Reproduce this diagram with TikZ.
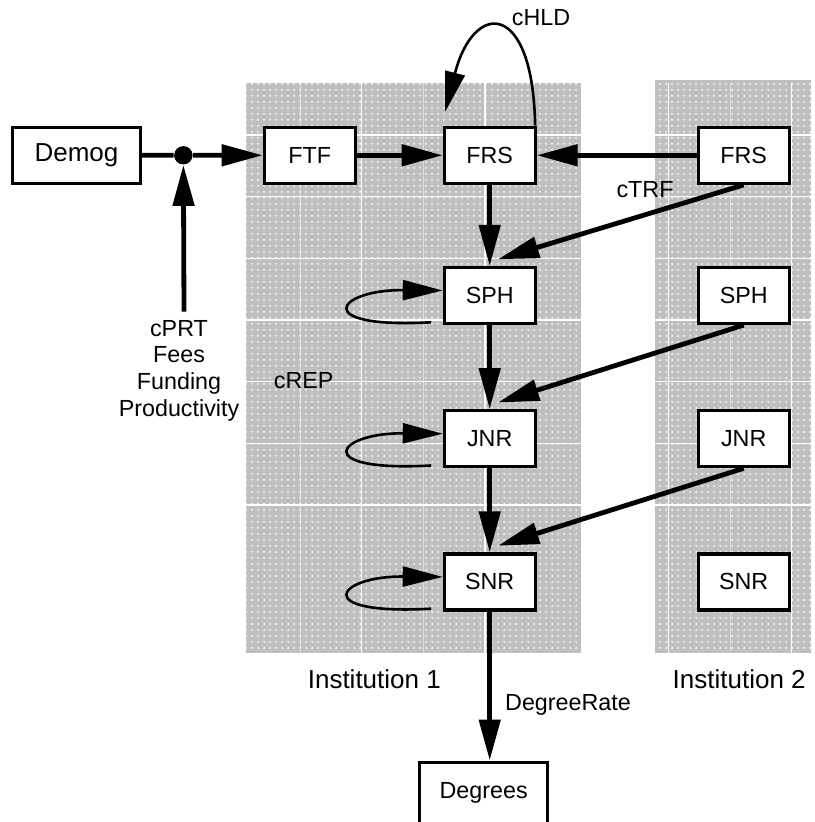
\documentclass[tikz,border=0pt]{standalone}
\usepackage{fontspec}
\setmainfont{Liberation Sans}
\usetikzlibrary{
    arrows.meta,
    patterns,
    calc,
    positioning
}
\tikzset{stock/.style={
    draw,
    fill=white,
    line width=1.6pt,
    inner sep=0pt,
    minimum width=45.4pt,
    minimum height=28pt
}}
\tikzset{wide/.style={minimum width=64pt}}
\tikzset{flow/.style={-{Triangle[length=20.5pt,width=10.5pt]}, line width=2.4pt}}
\tikzset{feedback/.style={-{Triangle[length=20pt,width=10pt]}, line width=1.3pt}}
\tikzset{panel/.style={fill=black!25}}
\tikzset{note/.style={anchor=base, inner sep=0pt}}
\tikzset{big/.style={font=\fontsize{13}{15}\selectfont}}

\begin{document}
\begin{tikzpicture}[
            x=0.5pt, y=-0.5pt,
            font=\fontsize{11.65}{13.35}\selectfont,
            node distance=42pt,
    ]
        \useasboundingbox (0,0) rectangle (814,822);

        % the two institutions
        \fill[panel] (245.7,82.7) rectangle (580.7,653.3);
        \fill[panel] (655,80) rectangle (811,653.3);
        \fill[pattern=dots, pattern color=white] (245.7,82.7) rectangle (580.7,653.3);
        \fill[pattern=dots, pattern color=white] (655,80) rectangle (811,653.3);
        \foreach \y in {135,196.7,258.3,320,381.7,443.3,505} {
            \draw[white, line width=0.6pt] (245.7,\y) -- (580.7,\y);
            \draw[white, line width=0.6pt] (655,\y) -- (811,\y);
        }
        \foreach \x in {361.7,485,668.3,791.7}
            \draw[white, line width=0.6pt] (\x,82.7) -- (\x,653.3);
        \foreach \x in {300,423.3,730}
            \draw[white, line width=0.5pt, opacity=0.5] (\x,82.7) -- (\x,653.3);

        \node[stock]
            (frs) at (489.7,155.3)
            {FRS};

        \node[stock, left=43pt of frs]
            (ftf)
            {FTF};

        \node[stock, wide, big, left=60.3pt of ftf]
            (demog)
            {Demog};

        \node[stock, right=80pt of frs]
            (frs-two)
            {FRS};

        \node[stock, below=40.5pt of frs]
            (sph)
            {SPH};

        \node[stock, below=of sph]
            (jnr)
            {JNR};

        \node[stock, below=of jnr]
            (snr)
            {SNR};

        \node[stock, right=80pt of sph]
            (sph-two)
            {SPH};

        \node[stock, right=80pt of jnr]
            (jnr-two)
            {JNR};

        \node[stock, right=80pt of snr]
            (snr-two)
            {SNR};

        \node[stock, wide, minimum height=31pt, below=74.5pt of snr, xshift=-3pt]
            (degrees)
            {Degrees};

        \node[circle, fill, inner sep=0pt, minimum size=9.2pt]
            (junction) at ($(demog.east)!0.342!(ftf.west)$)
            {};
        \coordinate (feed) at (184,311.7);

        % labels
        \node[align=center, inner sep=0pt] (inputs) at (179,370.5)
            {cPRT\\Fees\\Funding\\Productivity};
        \node[note] (crep) at (303.7,388.3) {cREP};
        \node[note] (ctrf) at (645,197.3) {cTRF};
        \node[note] (chld) at (541,26) {cHLD};
        \node[note] (rate) at (568,710) {DegreeRate};
        \node[note, big] (inst-one) at (374.3,688.3) {Institution 1};
        \node[note, big] (inst-two) at (739.2,688.3) {Institution 2};

        \draw[line width=2.4pt] (demog) -- (junction);
        \draw[flow] (junction) -- (ftf);
        \draw[flow] (feed) -- (junction);
        \draw[flow] (ftf) -- (frs);
        \draw[flow] (frs-two) -- (frs);
        \draw[flow] (frs) -- (sph);
        \draw[flow] (sph) -- (jnr);
        \draw[flow] (jnr) -- (snr);
        \draw[flow] (snr) -- (degrees.north -| snr);

        \foreach \a/\b in {frs-two/sph, sph-two/jnr, jnr-two/snr}
            \draw[flow] (\a.south) -- ([shift={(4.2pt,3.3pt)}]\b.north);

        \foreach \n in {sph, jnr, snr}
            \draw[feedback] ([shift={(-5.8pt,1.4pt)}]\n.south west)
                .. controls +(-121.7,6.7) and +(-106.7,-1) ..
                ([yshift=2.5pt]\n.west);

        \draw[feedback] ([xshift=-0.8pt]frs.north east)
            .. controls +(-2,-125.7) and +(28.7,-111.7) ..
            ([shift={(1.2pt,7pt)}]frs.north west);

    \end{tikzpicture}
\end{document}
